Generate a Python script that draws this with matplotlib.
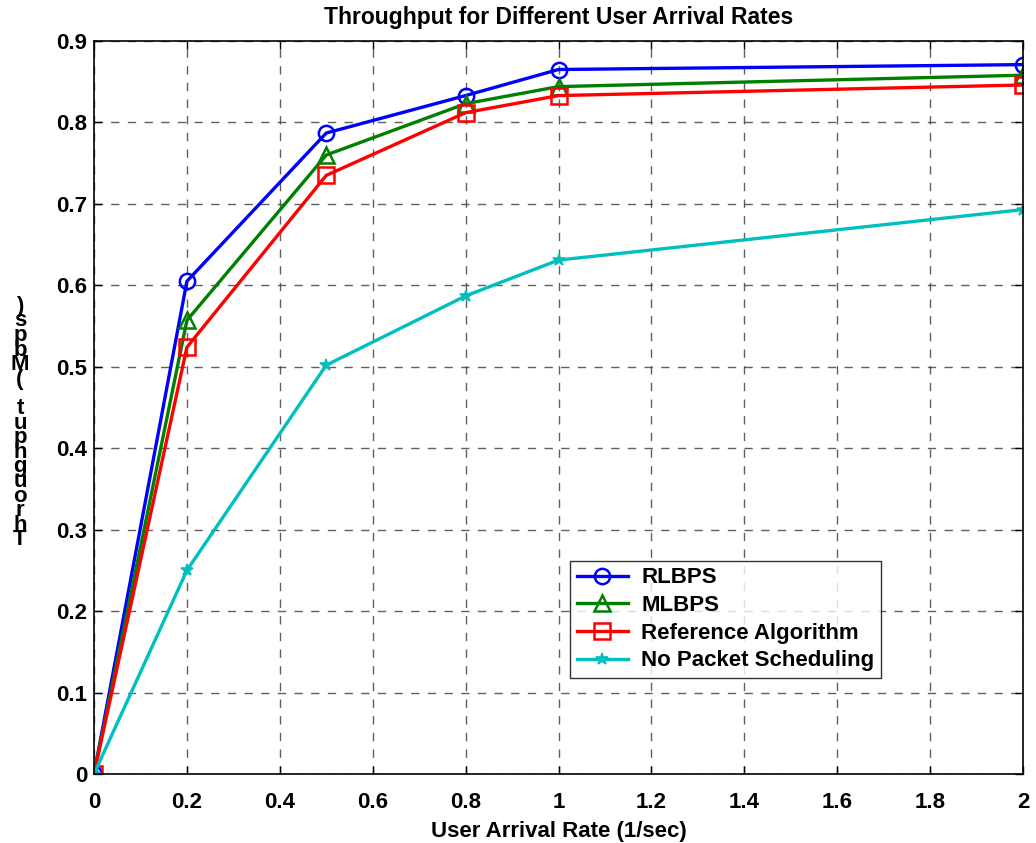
import matplotlib
matplotlib.use("Agg")
import matplotlib.pyplot as plt
from matplotlib.ticker import MultipleLocator, FormatStrFormatter

plt.rcParams['font.family'] = ['Liberation Sans', 'DejaVu Sans']
plt.rcParams['font.weight'] = 'bold'

x = [0, 0.2, 0.5, 0.8, 1, 2]
rlbps = [0, 0.605, 0.787, 0.833, 0.865, 0.871]
mlbps = [0, 0.557, 0.760, 0.823, 0.844, 0.858]
ref_alg = [0, 0.524, 0.735, 0.812, 0.833, 0.846]
no_ps = [0, 0.250, 0.502, 0.587, 0.631, 0.693]

labels = ['RLBPS', 'MLBPS', 'Reference Algorithm', 'No Packet Scheduling']
title = 'Throughput for Different User Arrival Rates'
xlabel = 'User Arrival Rate (1/sec)'
ylabel = 'Throughput (Mbps)'

fig = plt.figure(figsize=(10.36, 8.43), dpi=100)
ax = fig.add_axes([94/1036, 1-774/843, (1023-94)/1036, (774-41)/843])

lw = 2.4
ax.plot(x, rlbps, color='#0000ff', lw=lw, marker='o', ms=11, mfc='none', mew=1.8, label=labels[0])
ax.plot(x, mlbps, color='#008000', lw=lw, marker='^', ms=11, mfc='none', mew=1.8, label=labels[1])
ax.plot(x, ref_alg, color='#ff0000', lw=lw, marker='s', ms=11, mfc='none', mew=1.8, label=labels[2])
ax.plot(x, no_ps, color='#00bfbf', lw=lw, marker='*', ms=9, mew=1.2, label=labels[3])

ax.set_xlim(0, 2)
ax.set_ylim(0, 0.9)
ax.xaxis.set_major_locator(MultipleLocator(0.2))
ax.yaxis.set_major_locator(MultipleLocator(0.1))
ax.xaxis.set_major_formatter(FormatStrFormatter('%g'))
ax.yaxis.set_major_formatter(FormatStrFormatter('%g'))
ax.tick_params(direction='in', length=6, width=1, top=True, right=True, labelsize=16, pad=5)
ax.tick_params(axis='x', pad=13)
for lab in ax.get_xticklabels() + ax.get_yticklabels():
    lab.set_fontweight('bold')
ax.grid(True, color='#444444', linestyle=(0, (6, 6)), linewidth=1.0, alpha=0.85)
for s in ax.spines.values():
    s.set_linewidth(1.2)

ax.set_title(title, fontsize=16.5, fontweight='bold', pad=12)
ax.set_xlabel(xlabel, fontsize=16, fontweight='bold', labelpad=6)

# garbled stacked y label as in the reference (one text, characters stacked bottom-to-top)
stacked = "\n".join(reversed(list(ylabel)))
fig.text(20/1036, 1 - 423/843, stacked, fontsize=16, fontweight='bold',
         ha='center', va='center', linespacing=0.6, multialignment='center')

leg = ax.legend(loc='lower left', bbox_to_anchor=((570-94)/929, (774-678)/733),
                fontsize=16, frameon=True, fancybox=False, edgecolor='black',
                borderpad=0.3, labelspacing=0.3, handlelength=2.3, handletextpad=0.6,
                borderaxespad=0)
leg.get_frame().set_linewidth(1.0)
for t in leg.get_texts():
    t.set_fontweight('bold')

fig.savefig('out.png', dpi=100)
